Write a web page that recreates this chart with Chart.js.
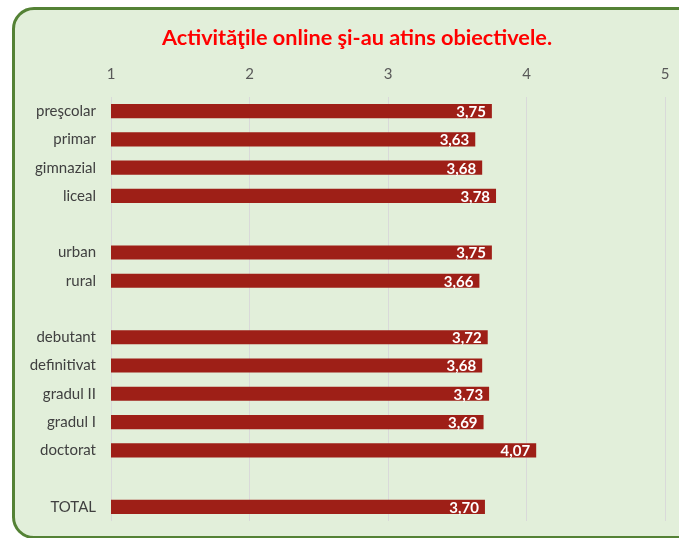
<!DOCTYPE html>
<html>
<head>
<meta charset="utf-8">
<script src="https://cdn.jsdelivr.net/npm/chart.js@4"></script>
<style>
	body { margin: 0; background: #ffffff; }
	#wrap { position: relative; width: 679px; height: 538px; overflow: hidden; }
	#box {
		position: absolute; left: 12px; top: 7px; width: 700px; height: 526px;
		background: #e2efda; border: 3px solid #548235; border-radius: 22px;
	}
	#mycanvas { position: absolute; left: 0; top: 0; }
</style>
</head>
<body>
<div id="wrap">
	<div id="box"></div>
	<canvas id="mycanvas" width="679" height="538"></canvas>
</div>
<script>
var chartTitle = "Activităţile online şi-au atins obiectivele.";
var categories = ["preşcolar", "primar", "gimnazial", "liceal", "", "urban", "rural", "", "debutant", "definitivat", "gradul II", "gradul I", "doctorat", "", "TOTAL"];
var values = [3.75, 3.63, 3.68, 3.78, null, 3.75, 3.66, null, 3.72, 3.68, 3.73, 3.69, 4.07, null, 3.70];
var tickValues = [1, 2, 3, 4, 5];

// white value labels inside the end of each bar
var valueLabels = {
	id: "valueLabels",
	afterDatasetsDraw: function(chart) {
		var ctx = chart.ctx;
		var meta = chart.getDatasetMeta(0);
		ctx.save();
		ctx.font = "bold 15px Lato";
		ctx.fillStyle = "#ffffff";
		ctx.textAlign = "right";
		ctx.textBaseline = "middle";
		meta.data.forEach(function(bar, i) {
			if (values[i] === null) return;
			ctx.fillText(values[i].toFixed(2).replace(".", ","), bar.x - 6, bar.y + 1);
		});
		ctx.restore();
	}
};

// title sits a bit right of the canvas centre, like the original
var titleText = {
	id: "titleText",
	afterDraw: function(chart) {
		var ctx = chart.ctx;
		ctx.save();
		ctx.font = "bold 21.7px Lato";
		ctx.fillStyle = "#ff0000";
		ctx.textAlign = "center";
		ctx.textBaseline = "middle";
		ctx.fillText(chartTitle, 357, 38);
		ctx.restore();
	}
};

var ctx = document.getElementById("mycanvas");

var BarGraph = new Chart(ctx, {
	type: "bar",
	data: {
		labels: categories,
		datasets: [{
			data: values,
			backgroundColor: "#9e1f17",
			barPercentage: 0.5,
			categoryPercentage: 1
		}]
	},
	options: {
		indexAxis: "y",
		responsive: false,
		animation: false,
		layout: { padding: { left: 0, right: 14, top: 58, bottom: 17 } },
		plugins: {
			legend: { display: false },
			tooltip: { enabled: false },
			title: { display: false }
		},
		scales: {
			x: {
				position: "top",
				min: 1,
				max: 5,
				afterBuildTicks: function(scale) {
					scale.ticks = tickValues.map(function(v) { return { value: v }; });
				},
				afterFit: function(scale) {
					scale.height = 39;
					scale.paddingLeft = 0;
					scale.paddingRight = 0;
				},
				grid: { color: "#d9d9d9", drawTicks: false },
				border: { display: false },
				ticks: { color: "#595959", font: { family: "Lato", size: 15 }, padding: 14 }
			},
			y: {
				afterFit: function(scale) {
					scale.width = 111;
					scale.paddingTop = 0;
					scale.paddingBottom = 0;
				},
				grid: { display: false, drawTicks: false },
				border: { display: false },
				ticks: { color: "#404040", font: { family: "Lato", size: 15 }, padding: 15 }
			}
		}
	},
	plugins: [valueLabels, titleText]
});
</script>
</body>
</html>
